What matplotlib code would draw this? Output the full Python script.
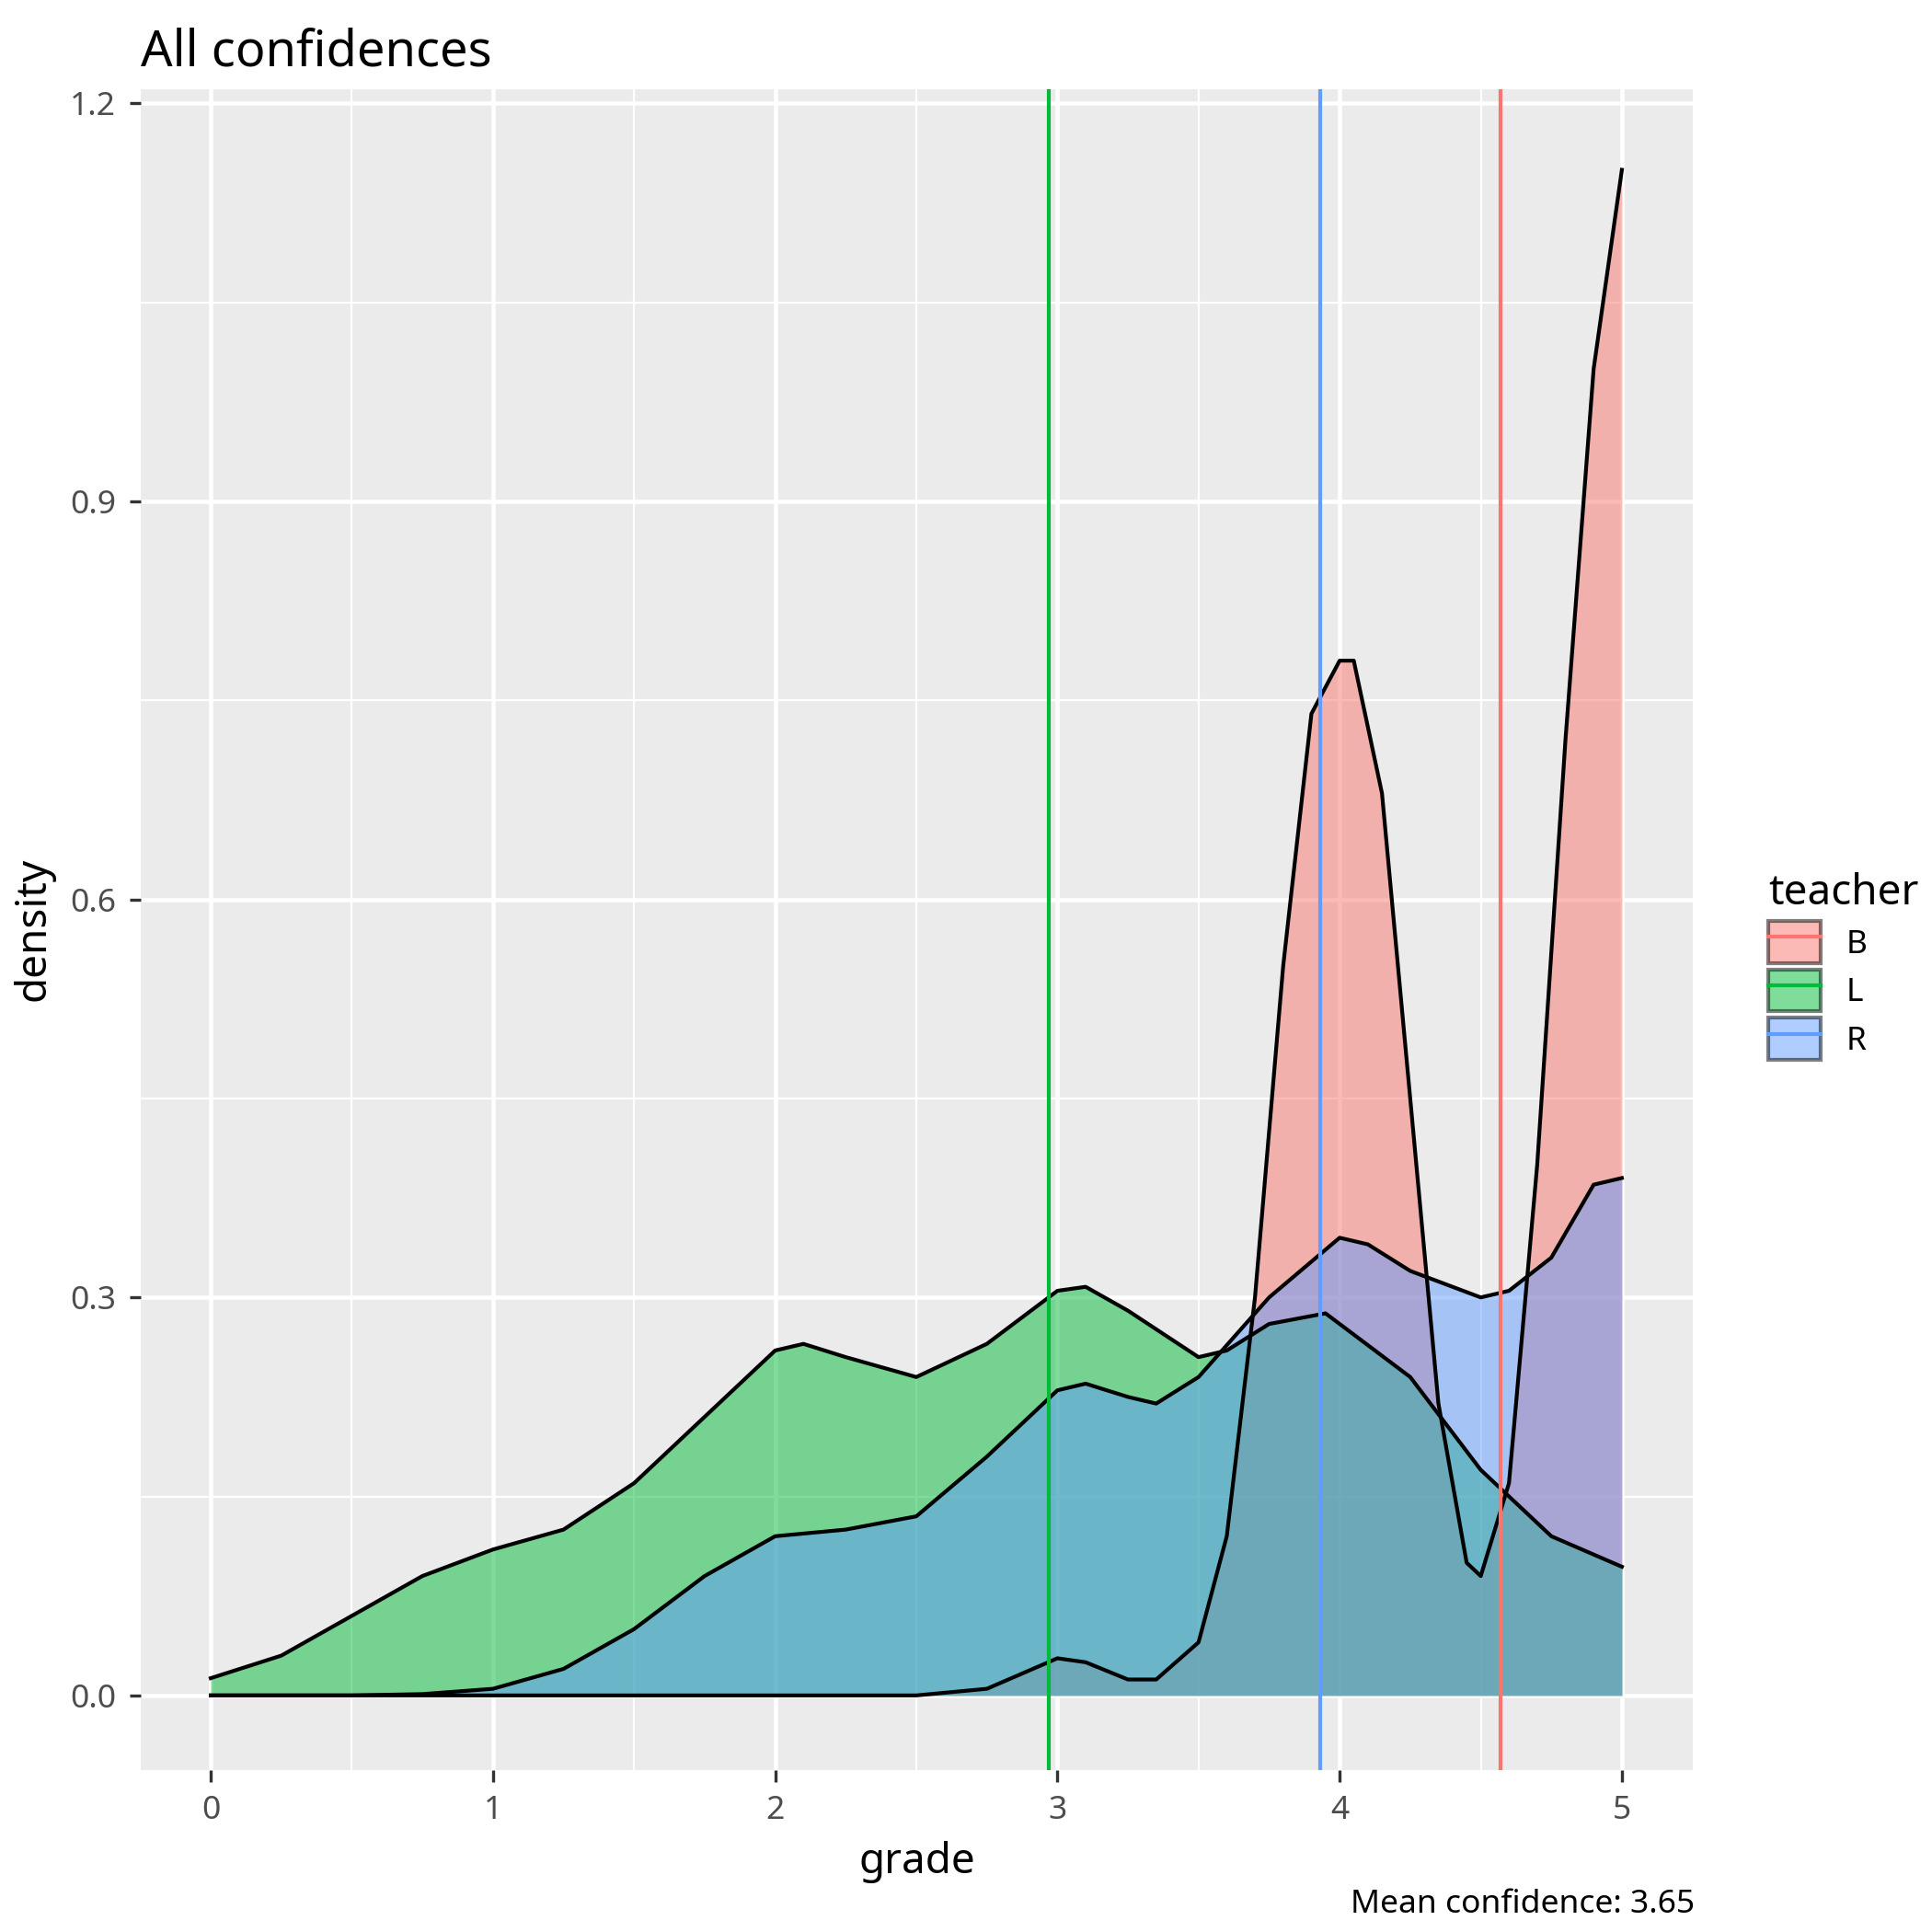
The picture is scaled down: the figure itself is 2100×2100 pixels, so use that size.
import numpy as np
import matplotlib.pyplot as plt
from matplotlib.patches import Patch
from matplotlib.lines import Line2D

plt.rcParams['font.family'] = ['Noto Sans', 'DejaVu Sans']

# density values
x_L = [0, 0.25, 0.5, 0.75, 1, 1.25, 1.5, 1.75, 2, 2.1, 2.25, 2.5, 2.75, 3, 3.1, 3.25, 3.5, 3.6, 3.75, 3.95, 4.25, 4.5, 4.75, 5]
d_L = [0.013, 0.03, 0.06, 0.09, 0.11, 0.125, 0.16, 0.21, 0.26, 0.265, 0.255, 0.24, 0.265, 0.305, 0.308, 0.29, 0.255, 0.26, 0.28, 0.288, 0.24, 0.17, 0.12, 0.097]
x_R = [0, 0.5, 0.75, 1, 1.25, 1.5, 1.75, 2, 2.25, 2.5, 2.75, 3, 3.1, 3.25, 3.35, 3.5, 3.75, 4, 4.1, 4.25, 4.5, 4.6, 4.75, 4.9, 5]
d_R = [0, 0, 0.001, 0.005, 0.02, 0.05, 0.09, 0.12, 0.125, 0.135, 0.18, 0.23, 0.235, 0.225, 0.22, 0.24, 0.30, 0.345, 0.34, 0.32, 0.30, 0.305, 0.33, 0.385, 0.39]
x_B = [0, 2.5, 2.75, 3, 3.1, 3.25, 3.35, 3.5, 3.6, 3.7, 3.8, 3.9, 4.0, 4.05, 4.15, 4.25, 4.35, 4.45, 4.5, 4.6, 4.7, 4.8, 4.9, 5]
d_B = [0, 0, 0.005, 0.028, 0.025, 0.012, 0.012, 0.04, 0.12, 0.30, 0.55, 0.74, 0.78, 0.78, 0.68, 0.45, 0.22, 0.10, 0.09, 0.16, 0.40, 0.72, 1.0, 1.15]
means = {'B': 4.57, 'L': 2.97, 'R': 3.93}
colors = {'B': '#F8766D', 'L': '#00BA38', 'R': '#619CFF'}
series = {'B': (x_B, d_B), 'L': (x_L, d_L), 'R': (x_R, d_R)}

fig = plt.figure(figsize=(7, 7), dpi=300)
ax = fig.add_axes([0.073, 0.084, 0.803, 0.87])
ax.set_facecolor('#EBEBEB')
for s in ax.spines.values():
    s.set_visible(False)

for k in ['B', 'L', 'R']:
    xs, ds = series[k]
    ax.fill_between(xs, 0, ds, color=colors[k], alpha=0.5, lw=0, zorder=2)
    ax.plot(xs, ds, color='black', lw=1, zorder=3)
for k in ['B', 'L', 'R']:
    ax.axvline(means[k], color=colors[k], lw=1, zorder=4)

ax.set_xlim(-0.247, 5.25)
ax.set_ylim(-0.056, 1.211)
ax.set_xticks(range(6))
ax.set_yticks([0, 0.3, 0.6, 0.9, 1.2])
ax.set_yticklabels(['0.0', '0.3', '0.6', '0.9', '1.2'])
ax.set_xticks(np.arange(0.5, 5, 1), minor=True)
ax.set_yticks(np.arange(0.15, 1.2, 0.3), minor=True)
ax.grid(which='major', color='white', lw=1.1, zorder=1)
ax.grid(which='minor', color='white', lw=0.55, zorder=1)
ax.set_axisbelow(True)
ax.tick_params(which='major', length=3, color='#333333', labelsize=8.5, labelcolor='#4D4D4D')
ax.tick_params(which='minor', length=0)
ax.set_xlabel('grade', fontsize=11)
ax.set_ylabel('density', fontsize=11)
ax.set_title('All confidences', loc='left', fontsize=13)
fig.text(0.877, 0.01, 'Mean confidence: 3.65', ha='right', fontsize=8.5)

handles = [(Patch(facecolor=colors[k], alpha=0.5, edgecolor='black'),
            Line2D([], [], color=colors[k], lw=1)) for k in ['B', 'L', 'R']]
from matplotlib.legend_handler import HandlerTuple
leg = fig.legend(handles, ['B', 'L', 'R'], title='teacher', loc='center left',
                 bbox_to_anchor=(0.9, 0.5), frameon=False, fontsize=8.5,
                 title_fontsize=11, handler_map={tuple: HandlerTuple(ndivide=1)},
                 handlelength=1.6, handleheight=1.6, labelspacing=0.2)
leg._legend_box.align = 'left'
fig.savefig('out.png', dpi=300)
